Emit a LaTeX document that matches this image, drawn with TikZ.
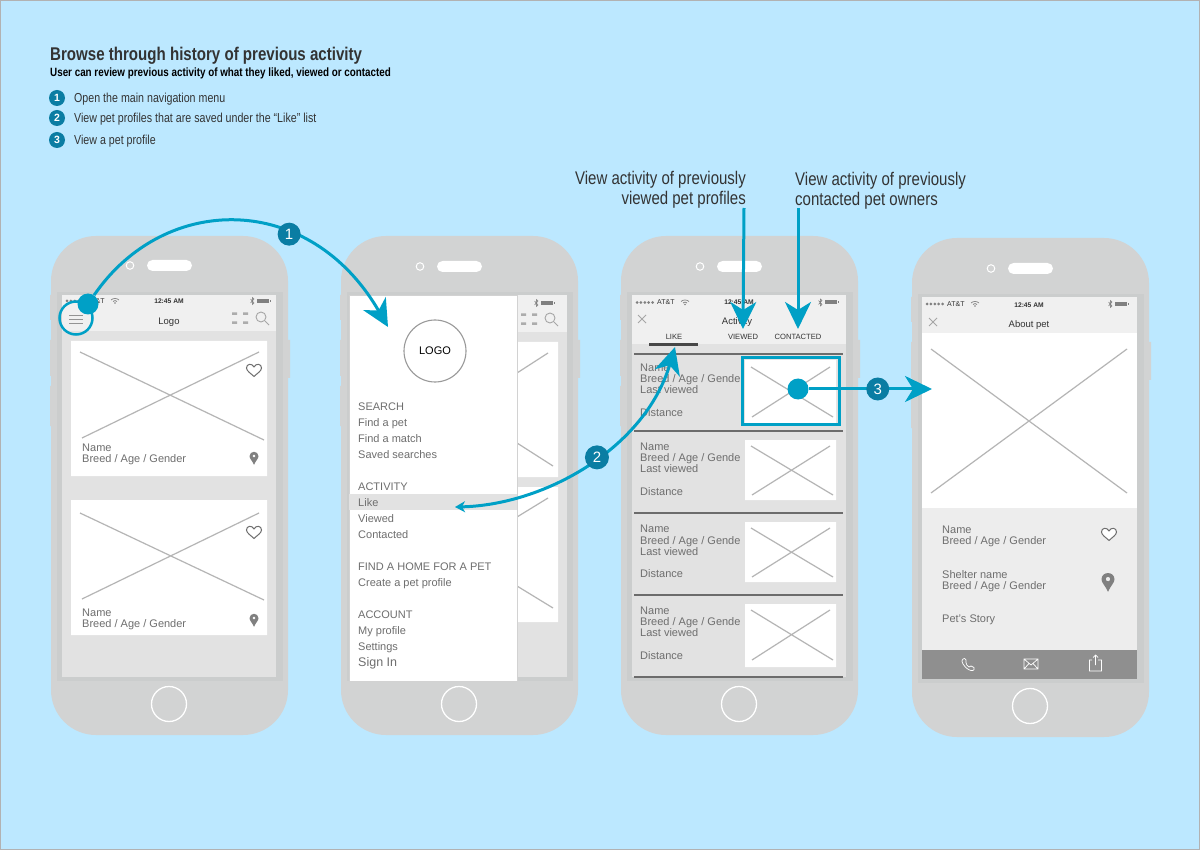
\documentclass[tikz,border=0pt]{standalone}
\usepackage{fontspec}
\setmainfont{Liberation Sans}
\newfontfamily\condf[FakeStretch=0.82]{Liberation Sans}
\usetikzlibrary{arrows.meta}
\definecolor{sky}{HTML}{BCE8FF}
\definecolor{phonebody}{HTML}{D2D3D3}
\definecolor{bezel}{HTML}{CBCDCD}
\definecolor{statusbg}{HTML}{F0F0F0}
\definecolor{screenbg}{HTML}{E2E2E2}
\definecolor{panelbg}{HTML}{EDEDED}
\definecolor{actionbar}{HTML}{8F8F8F}
\definecolor{wire}{HTML}{B5B5B5}
\definecolor{txt}{HTML}{6E6E6E}
\definecolor{pincolor}{HTML}{808080}
\definecolor{teal}{HTML}{00A0C6}
\definecolor{deepteal}{HTML}{0A7DA3}
\definecolor{ink}{HTML}{333333}
\newcommand{\fs}[1]{\fontsize{#1}{#1}\selectfont}
\tikzset{
  lab/.style={anchor=west,inner sep=0pt,text=txt,font=\fs{11},text height=8pt,text depth=0pt},
  midlab/.style={inner sep=0pt,text=ink,font=\fs{9.5},text height=7pt,text depth=0pt},
  tablab/.style={inner sep=0pt,text=ink,font=\fs{7.6},text height=5.5pt,text depth=0pt},
  clock/.style={inner sep=0pt,text=ink,font=\fs{6.7}\bfseries,text height=5pt,text depth=0pt},
  carrier/.style={anchor=west,inner sep=0pt,text=ink,font=\fs{7},text height=5pt,text depth=0pt},
  note/.style={inner sep=0pt,text=ink,font=\condf\fs{18.3},text height=13pt,text depth=0pt},
  steptext/.style={anchor=west,inner sep=0pt,text=ink,font=\condf\fs{13},text height=9.5pt,text depth=0pt},
  badge/.style={circle,fill=deepteal,text=white,inner sep=0pt,minimum size=#1,font=\fs{15}},
  keybadge/.style={circle,fill=deepteal,text=white,inner sep=0pt,minimum size=16pt,font=\fs{10.5}\bfseries},
  tealdot/.style={circle,fill=teal,inner sep=0pt,minimum size=21pt},
  flow/.style={draw=teal,line width=3pt},
  wireline/.style={draw=wire,line width=1.2pt},
  rowrule/.style={draw=gray!85!black,line width=1.6pt},
  bigtip/.style={-{Stealth[length=27pt,width=26pt,inset=8pt]}},
  pics/heart/.style={code={\draw[draw=txt,line width=1pt,fill=white] (0,6.5) .. controls (-3,3.5) and (-7.5,1) .. (-7.5,-2) .. controls (-7.5,-6.5) and (-2,-7) .. (0,-3) .. controls (2,-7) and (7.5,-6.5) .. (7.5,-2) .. controls (7.5,1) and (3,3.5) .. (0,6.5) -- cycle;}},
  pics/pinmark/.style={code={\fill[pincolor,even odd rule] (0,#1*1.5) .. controls (-#1*.4,#1*.6) and (-#1,#1*.1) .. (-#1,-#1*.4) .. controls (-#1,-#1*1.7) and (#1,-#1*1.7) .. (#1,-#1*.4) .. controls (#1,#1*.1) and (#1*.4,#1*.6) .. (0,#1*1.5) -- cycle (#1*.35,-#1*.45) arc (0:360:#1*.35);}}
}
% phone shell: local coordinates, body is 237 by 499
\newcommand{\phoneshell}[3]{%
 \begin{scope}[shift={(#1,#2)}]
  \fill[phonebody] (-1,59) rectangle (1,84) (-1,104) rectangle (1,140) (-1,150) rectangle (1,190) (236,104) rectangle (239,142);
  \fill[phonebody,rounded corners=45pt] (0,0) rectangle (237,499);
  \fill[bezel] (6,56) rectangle (232,445);
  \fill[white,rounded corners=5.5pt] (96,#3) rectangle (141,#3+11);
  \draw[white,line width=1pt] (79,#3+5.5) circle (3.8);
  \draw[white,line width=1.3pt] (118,468) circle (17.5);
 \end{scope}}
% status bar glyphs in absolute coordinates: left, right, y
\newcommand{\statusglyphs}[4]{%
 \foreach \k in {0,...,4} {\fill[gray] (#1+\k*3.9,#3) circle (1.5);}
 \node[carrier] (carrier#4) at (#1+20,#3) {AT\&T};
 \draw[gray,line width=.7pt] (#1+44,#3-1) .. controls (#1+46,#3-3) and (#1+50,#3-3) .. (#1+52,#3-1);
 \draw[gray,line width=.7pt] (#1+46,#3+.5) .. controls (#1+47,#3-.8) and (#1+49,#3-.8) .. (#1+50,#3+.5);
 \fill[gray] (#1+48,#3+2) circle (.8);
 \statusright{#2}{#3}}
\newcommand{\statusright}[2]{%
 \draw[gray,line width=.6pt] (#1-17.5,#2-2) -- (#1-14,#2+2) -- (#1-15.7,#2+3.5) -- (#1-15.7,#2-3.5) -- (#1-14,#2-2) -- (#1-17.5,#2+2);
 \fill[gray] (#1-11,#2-2) rectangle (#1+1,#2+2);
 \fill[gray] (#1+1.5,#2-1) rectangle (#1+2.5,#2+1);}
% top-right icons
\newcommand{\toolicons}[2]{%
 \fill[gray!65] (#1,#2-5.5) rectangle (#1+5,#2-3) (#1+11,#2-5.5) rectangle (#1+16,#2-3) (#1,#2+3.5) rectangle (#1+5,#2+6) (#1+11,#2+3.5) rectangle (#1+16,#2+6);
 \draw[gray!70,line width=.9pt] (#1+29,#2-1) circle (5);
 \draw[gray!70,line width=.9pt] (#1+33,#2+3) -- (#1+37,#2+7);}
\newcommand{\thumbx}[4]{\draw[wireline] (#1,#2) -- (#3,#4) (#3-3,#2) -- (#1+1,#4);}
\newcommand{\closex}[2]{\draw[gray!70,line width=.8pt] (#1-4,#2-4) -- (#1+4,#2+4) (#1+4,#2-4) -- (#1-4,#2+4);}
\begin{document}
\begin{tikzpicture}[x=1pt,y=-1pt]
\useasboundingbox (0,0) rectangle (1200,850);
\fill[sky] (0,0) rectangle (1200,850);
\draw[gray!60,line width=1pt] (.5,.5) rectangle (1199.5,849.5);

% heading
\node[anchor=west,inner sep=0pt,text=ink,font=\condf\fs{18.4}\bfseries,text height=13pt,text depth=0pt] (title) at (50,54) {Browse through history of previous activity};
\node[anchor=west,inner sep=0pt,text=black,font=\condf\fs{12}\bfseries,text height=9pt,text depth=0pt] (subtitle) at (50,72) {User can review previous activity of what they liked, viewed or contacted};
\node[keybadge] (k1) at (57,98) {1};
\node[keybadge] (k2) at (57,118) {2};
\node[keybadge] (k3) at (57,140) {3};
\node[steptext] (s1) at (74,98) {Open the main navigation menu};
\node[steptext] (s2) at (74,118) {View pet profiles that are saved under the “Like” list};
\node[steptext] (s3) at (74,140) {View a pet profile};

% phone 1
\phoneshell{51}{236}{24}
\fill[screenbg] (62,295) rectangle (276,677);
\fill[statusbg] (62,295) rectangle (276,331);
\statusglyphs{67}{268}{301}{a}
\node[clock] (clocka) at (169,301) {12:45 AM};
\node[midlab,text=black!80] (logoa) at (169,321) {Logo};
\toolicons{232}{318}
\draw[gray!85,line width=.7pt] (69,315) -- (83,315) (69,319) -- (83,319) (69,323.500) -- (83,323.500);
\fill[white] (71,341) rectangle (267,476) (71,500) rectangle (267,635);
\draw[wireline] (80,352) -- (264,440) (259,352) -- (82,438);
\draw[wireline] (80,513) -- (264,600) (259,513) -- (82,599);
\pic at (254,370) {heart};
\pic at (254,532) {heart};
\pic at (254,458) {pinmark=4.5};
\pic at (254,620) {pinmark=4.5};
\node[lab] (a1) at (82,447) {Name};
\node[lab] (a2) at (82,458) {Breed / Age / Gender};
\node[lab] (a3) at (82,612) {Name};
\node[lab] (a4) at (82,623) {Breed / Age / Gender};

% phone 2
\phoneshell{341}{236}{25}
\fill[screenbg] (517,295) rectangle (567,677);
\fill[statusbg] (517,295) rectangle (567,332);
\statusright{552}{303}
\toolicons{521}{319}
\fill[white] (517,342) rectangle (558,477) (517,487) rectangle (558,622);
\draw[wireline] (517,373) -- (548,353) (517,443) -- (553,466) (517,517) -- (548,498) (517,586) -- (553,608);
\fill[white,draw=gray!35,line width=.6pt] (349,295) rectangle (517,681);
\fill[screenbg] (349,494) rectangle (517,510);
\node[circle,draw=gray!80,line width=1.1pt,minimum size=62pt,inner sep=0pt,text=black,font=\fs{11}] (logob) at (435,351) {LOGO};
\foreach \nm/\yy/\tx in {b1/406/SEARCH,b2/422/Find a pet,b3/438/Find a match,b4/454/Saved searches,b5/486/ACTIVITY,b6/502/Like,b7/518/Viewed,b8/534/Contacted,b9/566/FIND A HOME FOR A PET,b10/582/Create a pet profile,b11/614/ACCOUNT,b12/630/My profile,b13/646/Settings} {\node[lab] (\nm) at (358,\yy) {\tx};}
\node[lab,font=\fs{12.5}] (b14) at (358,662) {Sign In};

% phone 3
\phoneshell{621}{236}{25}
\fill[screenbg] (632,295) rectangle (846,677);
\fill[statusbg] (632,295) rectangle (846,344);
\statusglyphs{637}{836}{302.500}{c}
\node[clock] (clockc) at (739,302.500) {12:45 AM};
\closex{642}{319}
\node[midlab,text=black!80] (titlec) at (737,321) {Activity};
\node[tablab] (tab1) at (674,337) {LIKE};
\node[tablab] (tab2) at (743,337) {VIEWED};
\node[tablab] (tab3) at (798,337) {CONTACTED};
\fill[ink!90] (649,343) rectangle (698,346);
\draw[rowrule] (634,354) -- (843,354) (634,431) -- (843,431) (634,513) -- (843,513) (634,595) -- (843,595) (634,677) -- (843,677);
\foreach \p/\y/\yy/\yyy/\yyyy in {c1/367/378/389/412,c2/446/457/468/491,c3/528/540/551/573,c4/610/621/632/655} {
  \node[lab] (\p n) at (640,\y) {Name};
  \node[lab] (\p b) at (640,\yy) {Breed / Age / Gende};
  \node[lab] (\p l) at (640,\yyy) {Last viewed};
  \node[lab] (\p d) at (640,\yyyy) {Distance};
}
\fill[white] (745,360) rectangle (836,423) (745,440) rectangle (836,500) (745,522) rectangle (836,582) (745,604) rectangle (836,667);
\thumbx{751}{367}{833}{417}
\thumbx{751}{446}{833}{495}
\thumbx{751}{528}{833}{577}
\thumbx{751}{610}{833}{660}
\node[draw=teal,line width=3pt,inner sep=0pt,minimum width=97pt,minimum height=67pt] (hilite) at (791,391) {};

% phone 4
\phoneshell{912}{238}{25}
\fill[statusbg] (922,297) rectangle (1137,334);
\fill[white] (922,333) rectangle (1137,508);
\fill[panelbg] (922,508) rectangle (1137,650);
\fill[actionbar] (922,650) rectangle (1137,679);
\statusglyphs{927}{1126}{304}{d}
\node[clock] (clockd) at (1029,305) {12:45 AM};
\closex{933}{322}
\node[midlab,text=black!80] (titled) at (1029,324) {About pet};
\draw[wireline] (931,349) -- (1127,493) (1127,349) -- (931,493);
\node[lab] (d1) at (942,529) {Name};
\node[lab] (d2) at (942,540) {Breed / Age / Gender};
\node[lab] (d3) at (942,574) {Shelter name};
\node[lab] (d4) at (942,585) {Breed / Age / Gender};
\node[lab] (d5) at (942,618) {Pet's Story};
\pic at (1109,534) {heart};
\pic at (1108,582) {pinmark=6.500};
\draw[white,line width=.7pt,line join=round] (963,659) .. controls (961,660) and (962,662) .. (963,664) .. controls (965,667) and (968,670) .. (971,670.500) .. controls (974,671) and (975,669) .. (974,667.500) -- (971,666) -- (969,667) .. controls (967,666) and (966,664) .. (966,662.500) -- (966,660) -- (964.500,658.500) -- cycle;
\draw[white,line width=.7pt] (1024,659) rectangle (1038,669) (1024,659) -- (1031,665) -- (1038,659) (1024,669) -- (1029,663.500) (1038,669) -- (1033,663.500);
\draw[white,line width=.7pt] (1092,660) -- (1089.500,660) -- (1089.500,671) -- (1101.500,671) -- (1101.500,660) -- (1098,660) (1095.500,665) -- (1095.500,655) (1093,657.500) -- (1095.500,655) -- (1098,657.500);

% callout texts
\node[note,anchor=east] (n1) at (746,178) {View activity of previously};
\node[note,anchor=east] (n2) at (746,198) {viewed pet profiles};
\node[note,anchor=west] (n3) at (795,179) {View activity of previously};
\node[note,anchor=west] (n4) at (795,199) {contacted pet owners};

% connectors
\node[circle,draw=teal,line width=2.5pt,minimum size=33pt,inner sep=0pt] (menuring) at (76,318) {};
\node[tealdot] (dot1) at (88,304) {};
\coordinate (end1) at (388,327);
\draw[flow,bigtip] (dot1) .. controls (165,192) and (310,192) .. (end1) node[badge=23pt,pos=.655] (b1a) {1};

\coordinate (like) at (455,507);
\coordinate (tabend) at (675,347);
\draw[flow,{Stealth[length=10pt,width=11pt,inset=3pt]}-{Stealth[length=27pt,width=26pt,inset=8pt]}] (like) .. controls (545,505) and (645,448) .. (tabend) node[badge=24pt,pos=.54] (b2a) {2};

\coordinate (viewedfrom) at (744,208);
\coordinate (viewedto) at (743,329);
\coordinate (contactfrom) at (798,208);
\coordinate (contactto) at (798,329);
\draw[flow,bigtip] (viewedfrom) -- (viewedto);
\draw[flow,bigtip] (contactfrom) -- (contactto);

\node[tealdot] (dot3) at (798,389) {};
\coordinate (end3) at (932,389);
\draw[flow,bigtip] (dot3) -- (end3) node[badge=23pt,pos=.56] (b3a) {3};
\end{tikzpicture}
\end{document}
